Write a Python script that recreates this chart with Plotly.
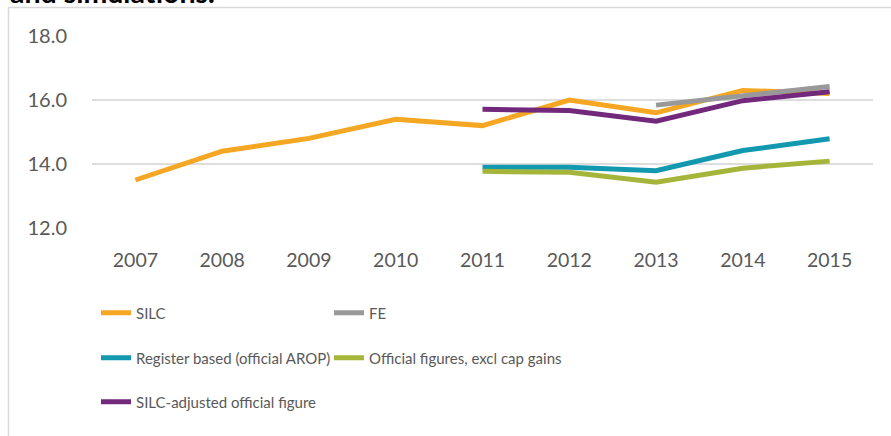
import plotly.graph_objects as go

years = ["2007", "2008", "2009", "2010", "2011", "2012", "2013", "2014", "2015"]
silc = [13.5, 14.4, 14.8, 15.4, 15.2, 16.0, 15.6, 16.3, 16.2]
fe = [None, None, None, None, None, None, 15.84, 16.13, 16.42]
register = [None, None, None, None, 13.9, 13.9, 13.79, 14.42, 14.79]
official_excl = [None, None, None, None, 13.77, 13.74, 13.43, 13.87, 14.09]
silc_adjusted = [None, None, None, None, 15.71, 15.67, 15.34, 15.98, 16.26]

series = [
    ("SILC", silc, "#F5A623", "legend"),
    ("FE", fe, "#999999", "legend2"),
    ("Register based (official AROP)", register, "#1399AF", "legend3"),
    ("Official figures, excl cap gains", official_excl, "#A5B53A", "legend4"),
    ("SILC-adjusted official figure", silc_adjusted, "#72297C", "legend5"),
]

W, H = 891, 436
L, R, T, B = 92, 18, 36, 208
pw, ph = W - L - R, H - T - B

def px_x(x):
    return (x - L) / pw

def px_y(y):
    return (H - B - y) / ph

fig = go.Figure()
for name, vals, color, leg in series:
    fig.add_trace(go.Scatter(
        x=years, y=vals, name=name, mode="lines",
        line=dict(color=color, width=5),
        connectgaps=False, legend=leg,
    ))

legfont = dict(family="Lato, sans-serif", size=15, color="#595959")
leg_pos = {
    "legend": (96, 313),
    "legend2": (329, 313),
    "legend3": (96, 358),
    "legend4": (329, 358),
    "legend5": (96, 402),
}
legends = {}
for k, (lx, ly) in leg_pos.items():
    legends[k] = dict(
        x=px_x(lx), y=px_y(ly), xanchor="left", yanchor="middle",
        orientation="h", font=legfont, bgcolor="rgba(0,0,0,0)",
        borderwidth=0,
    )

fig.update_layout(
    width=W, height=H,
    margin=dict(l=L, r=R, t=T, b=B, pad=0, autoexpand=False),
    paper_bgcolor="white", plot_bgcolor="white",
    showlegend=True,
    xaxis=dict(
        type="category", range=[-0.5, 8.5], showgrid=False, zeroline=False, showline=False,
        ticks="", tickfont=dict(family="Lato, sans-serif", size=19.5, color="#595959"),
        ticklabelstandoff=18,
    ),
    yaxis=dict(
        range=[12, 18], dtick=2, tickformat=".1f", showgrid=True,
        gridcolor="#DDDDDD", gridwidth=2, zeroline=False, showline=False,
        ticks="", tickfont=dict(family="Lato, sans-serif", size=20, color="#595959"),
        ticklabelstandoff=24,
    ),
    annotations=[dict(
        text="<b>and simulations.</b>", xref="paper", yref="paper",
        x=px_x(8), y=px_y(11), xanchor="left", yanchor="bottom",
        showarrow=False, font=dict(family="Lato, sans-serif", size=28.5, color="black"),
    )],
    shapes=[dict(
        type="rect", xref="paper", yref="paper",
        x0=px_x(8.5), x1=px_x(W + 20), y0=px_y(H + 20), y1=px_y(7.5),
        line=dict(color="#D9D9D9", width=1.5), fillcolor="rgba(0,0,0,0)", layer="below",
    )],
    **legends,
)

fig.write_html(
    "out.html",
    config={"displayModeBar": False},
    post_script="document.body.style.margin='0';document.body.style.padding='0';",
)
